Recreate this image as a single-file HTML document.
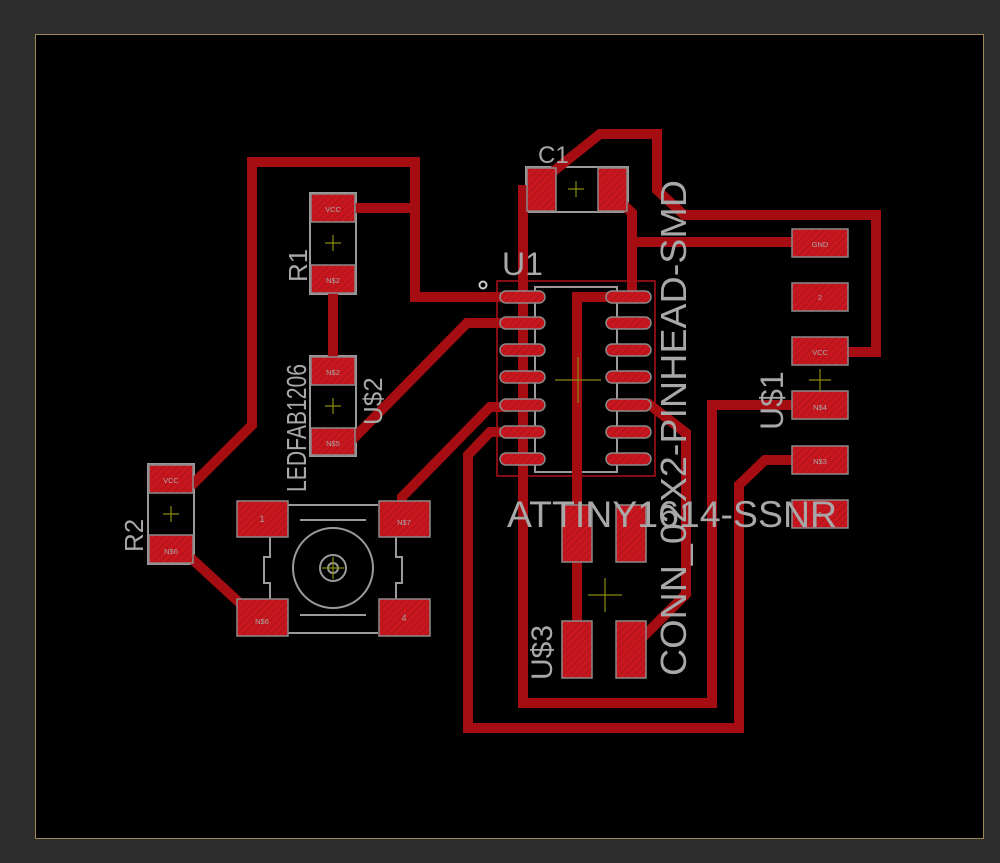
<!DOCTYPE html>
<html><head><style>
html,body{margin:0;padding:0;background:#2d2d2d;width:1000px;height:863px;overflow:hidden}
svg{display:block}
text{font-family:"Liberation Sans",sans-serif;fill:#a8a8a8}
</style></head><body>
<svg width="1000" height="863" viewBox="0 0 1000 863">
<defs>
<pattern id="h" width="5" height="5" patternUnits="userSpaceOnUse" patternTransform="rotate(45)">
<rect width="5" height="5" fill="#c8161e"/><line x1="0" y1="0" x2="0" y2="5" stroke="#9a1118" stroke-width="1.2"/>
</pattern>
</defs>
<rect x="0" y="0" width="1000" height="863" fill="#2d2d2d"/>
<rect x="35.5" y="34.5" width="948" height="804" fill="#000" stroke="#a08858" stroke-width="1"/>

<g fill="none" stroke="#9a9a9a" stroke-width="2">
<rect x="310" y="193" width="46" height="101"/>
<rect x="310" y="356" width="46" height="100"/>
<rect x="148" y="464" width="46" height="100"/>
<rect x="526" y="167" width="102" height="45"/>
<rect x="535" y="287" width="82" height="185"/>
<path d="M288 505h90M288 633h90M270 537v20h-6v26h6v16M396 537v20h6v26h-6v16M300 520h66M300 615h66"/>
<circle cx="333" cy="568" r="40"/>
<circle cx="333" cy="568" r="13"/>
<circle cx="333" cy="568" r="5"/>
</g>
<rect x="497" y="281" width="158" height="195" fill="none" stroke="#b01018" stroke-width="1.5"/>
<circle cx="483" cy="285" r="3.5" fill="none" stroke="#ccc" stroke-width="2"/>

<g fill="none" stroke="#a50d12" stroke-width="10" stroke-linejoin="miter" stroke-linecap="square">
<polyline points="500,297 415,297 415,162 252,162 252,425 195,482"/>
<polyline points="355,208 415,208"/>
<polyline points="333,293 333,357"/>
<polyline points="350,442 467,323 500,323"/>
<polyline points="402,510 402,497 490,407 500,407"/>
<polyline points="500,432 490,432 468,455 468,728 739,728 739,485 765,460 800,460"/>
<polyline points="523,190 523,703 712,703 712,405 800,405"/>
<polyline points="540,182 600,134 657,134 657,190 684,215 876,215 876,352 848,352"/>
<polyline points="617,198 632,213 632,297 620,297"/>
<polyline points="632,242 800,242"/>
<polyline points="620,297 577,297 577,630"/>
<polyline points="650,405 686,433 686,594 640,640"/>
<polyline points="180,548 255,617"/>
</g>

<g fill="url(#h)" stroke="#8a8a8a" stroke-width="1.5">
<rect x="311" y="194" width="44" height="28"/><rect x="311" y="265" width="44" height="28"/>
<rect x="311" y="357" width="44" height="28"/><rect x="311" y="428" width="44" height="27"/>
<rect x="149" y="465" width="44" height="28"/><rect x="149" y="535" width="44" height="28"/>
<rect x="527" y="168" width="29" height="43"/><rect x="598" y="168" width="29" height="43"/>
<rect x="792" y="229" width="56" height="28"/><rect x="792" y="283" width="56" height="28"/>
<rect x="792" y="337" width="56" height="28"/><rect x="792" y="391" width="56" height="28"/>
<rect x="792" y="446" width="56" height="28"/><rect x="792" y="500" width="56" height="28"/>
<rect x="237" y="501" width="51" height="36"/><rect x="379" y="501" width="51" height="36"/>
<rect x="237" y="599" width="51" height="37"/><rect x="379" y="599" width="51" height="37"/>
<rect x="562" y="505" width="30" height="57"/><rect x="616" y="505" width="30" height="57"/>
<rect x="562" y="621" width="30" height="57"/><rect x="616" y="621" width="30" height="57"/>
</g>
<g fill="url(#h)" stroke="#8a8a8a" stroke-width="1.5">
<rect x="500" y="291" width="45" height="12" rx="6"/><rect x="500" y="317" width="45" height="12" rx="6"/>
<rect x="500" y="344" width="45" height="12" rx="6"/><rect x="500" y="371" width="45" height="12" rx="6"/>
<rect x="500" y="399" width="45" height="12" rx="6"/><rect x="500" y="426" width="45" height="12" rx="6"/>
<rect x="500" y="453" width="45" height="12" rx="6"/>
<rect x="606" y="291" width="45" height="12" rx="6"/><rect x="606" y="317" width="45" height="12" rx="6"/>
<rect x="606" y="344" width="45" height="12" rx="6"/><rect x="606" y="371" width="45" height="12" rx="6"/>
<rect x="606" y="399" width="45" height="12" rx="6"/><rect x="606" y="426" width="45" height="12" rx="6"/>
<rect x="606" y="453" width="45" height="12" rx="6"/>
</g>

<g stroke="#8a8a10" stroke-width="1.2">
<path d="M325 243h16M333 235v16M325 406h16M333 398v16M163 514h16M171 506v16M568 189h16M576 181v16M555 380h46M578 357v46M809 380h22M820 369v22M588 595h34M605 578v34M322 568h22M333 557v22"/>
</g>

<g font-size="7.5" text-anchor="middle">
<text x="333" y="212" fill="#ddd">VCC</text><text x="333" y="283" fill="#ddd">N$2</text>
<text x="333" y="375" fill="#ddd">N$2</text><text x="333" y="446" fill="#ddd">N$5</text>
<text x="171" y="483" fill="#ddd">VCC</text><text x="171" y="554" fill="#ddd">N$6</text>
<text x="820" y="247" fill="#ddd">GND</text><text x="820" y="300" fill="#ddd">2</text>
<text x="820" y="355" fill="#ddd">VCC</text><text x="820" y="410" fill="#ddd">N$4</text>
<text x="820" y="464" fill="#ddd">N$3</text><text x="820" y="517" fill="#ddd">6</text>
<text x="262" y="522" fill="#ddd" font-size="9">1</text><text x="404" y="525" fill="#ddd">N$7</text>
<text x="262" y="624" fill="#ddd">N$6</text><text x="404" y="621" fill="#ddd" font-size="9">4</text>
</g>
<text x="538" y="163" font-size="24">C1</text>
<text x="502" y="275" font-size="32">U1</text>
<text x="507" y="527" font-size="37" textLength="330" lengthAdjust="spacingAndGlyphs">ATTINY1614-SSNR</text>
<text transform="translate(307,282) rotate(-90)" font-size="26">R1</text>
<text transform="translate(143,552) rotate(-90)" font-size="26">R2</text>
<text transform="translate(382,425) rotate(-90)" font-size="26">U$2</text>
<text transform="translate(306,492) rotate(-90)" font-size="28" textLength="128" lengthAdjust="spacingAndGlyphs">LEDFAB1206</text>
<text transform="translate(686,676) rotate(-90)" font-size="36" textLength="496" lengthAdjust="spacingAndGlyphs">CONN_02X2-PINHEAD-SMD</text>
<text transform="translate(783,430) rotate(-90)" font-size="32">U$1</text>
<text transform="translate(552,680) rotate(-90)" font-size="30">U$3</text>
</svg>
</body></html>
